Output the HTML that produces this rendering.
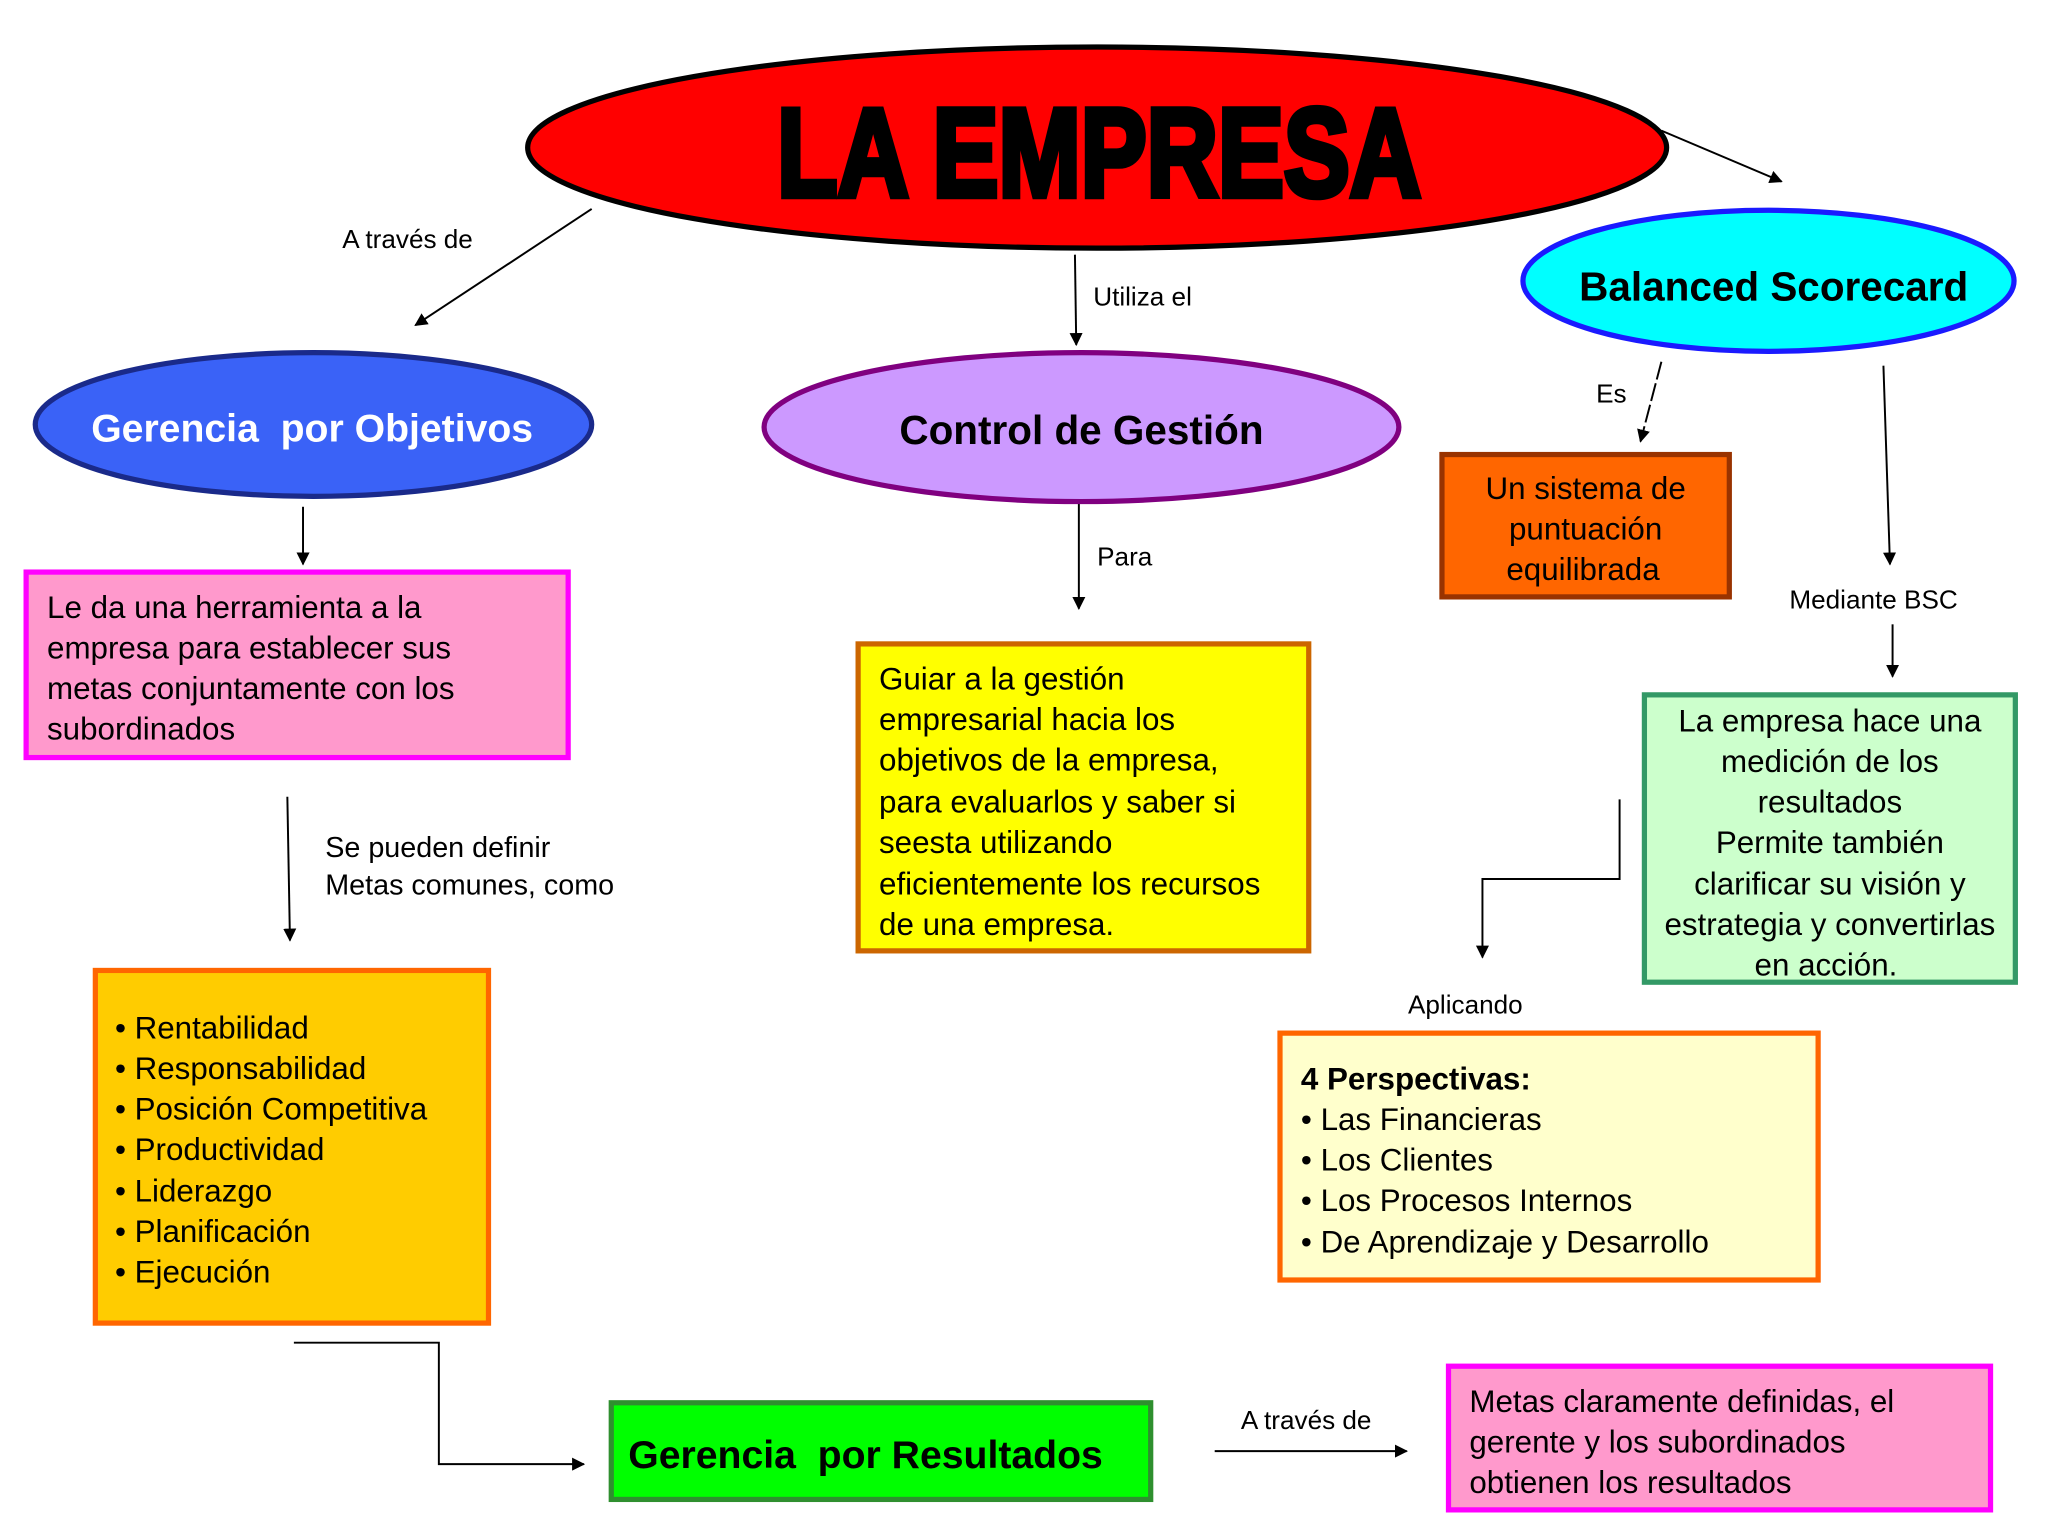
<!DOCTYPE html>
<html><head><meta charset="utf-8"><style>
html,body{margin:0;padding:0;background:#fff;}
svg{display:block;}
text{font-family:"Liberation Sans",Arial,sans-serif;fill:#000;}
</style></head><body>
<svg width="2048" height="1536" viewBox="0 0 1568 1176" xmlns="http://www.w3.org/2000/svg">
<defs>
<marker id="a" markerWidth="10" markerHeight="10" refX="9" refY="5" orient="auto" markerUnits="userSpaceOnUse">
<path d="M0,0 L10,5 L0,10 z" fill="#000"/></marker>
</defs>
<rect width="1568" height="1176" fill="#fff"/>

<!-- connectors -->
<g stroke="#000" stroke-width="1.5" fill="none">
<line x1="1272" y1="100" x2="1364" y2="139" marker-end="url(#a)"/>
<line x1="453" y1="160" x2="318" y2="249" marker-end="url(#a)"/>
<line x1="823" y1="195" x2="824" y2="264" marker-end="url(#a)"/>
<line x1="232" y1="388" x2="232" y2="432" marker-end="url(#a)"/>
<line x1="220" y1="610" x2="222" y2="720" marker-end="url(#a)"/>
<polyline points="225,1028 336,1028 336,1121 447,1121" marker-end="url(#a)"/>
<line x1="930" y1="1111" x2="1077" y2="1111" marker-end="url(#a)"/>
<line x1="826" y1="380" x2="826" y2="466" marker-end="url(#a)"/>
<line x1="1272" y1="277" x2="1256" y2="338" stroke-dasharray="14,3" marker-end="url(#a)"/>
<line x1="1442" y1="280" x2="1447" y2="432" marker-end="url(#a)"/>
<line x1="1449" y1="478" x2="1449" y2="518" marker-end="url(#a)"/>
<polyline points="1240,612 1240,673 1135,673 1135,733" marker-end="url(#a)"/>
</g>

<!-- ellipses -->
<ellipse cx="840" cy="113" rx="436" ry="77" fill="#ff0000" stroke="#000" stroke-width="4"/>
<text x="595" y="150" font-size="96" font-weight="900" textLength="493" lengthAdjust="spacingAndGlyphs" stroke="#000" stroke-width="5" style="font-family:'Liberation Sans Narrow','Liberation Sans',sans-serif">LA EMPRESA</text>

<ellipse cx="240" cy="325" rx="213" ry="55" fill="#3a62f7" stroke="#1a2a8a" stroke-width="4"/>
<text x="239" y="338" font-size="30" font-weight="bold" text-anchor="middle" style="fill:#fff" xml:space="preserve">Gerencia  por Objetivos</text>

<ellipse cx="828" cy="327" rx="243" ry="57" fill="#cc99ff" stroke="#800080" stroke-width="4"/>
<text x="828" y="340" font-size="31" font-weight="bold" text-anchor="middle">Control de Gestión</text>

<ellipse cx="1354" cy="215" rx="188" ry="54" fill="#00ffff" stroke="#1a1aff" stroke-width="4"/>
<text x="1358" y="230" font-size="31" font-weight="bold" text-anchor="middle">Balanced Scorecard</text>

<!-- labels -->
<g font-size="20">
<text x="262" y="190">A través de</text>
<text x="837" y="234">Utiliza el</text>
<text x="840" y="433">Para</text>
<text x="1222" y="308">Es</text>
<text x="1370" y="466">Mediante BSC</text>
<text x="1078" y="776">Aplicando</text>
<text x="950" y="1094">A través de</text>
<text x="249" y="656" font-size="22">Se pueden definir</text>
<text x="249" y="685" font-size="22">Metas comunes, como</text>
</g>

<!-- boxes -->
<rect x="20" y="438" width="415" height="142" fill="#ff99cc" stroke="#ff00ff" stroke-width="4"/>
<g font-size="24">
<text x="36" y="473">Le da una herramienta a la</text>
<text x="36" y="504">empresa para establecer sus</text>
<text x="36" y="535">metas conjuntamente con los</text>
<text x="36" y="566">subordinados</text>
</g>

<rect x="73" y="743" width="301" height="270" fill="#ffcc00" stroke="#ff6600" stroke-width="4"/>
<g font-size="24">
<text x="88" y="795">• Rentabilidad</text>
<text x="88" y="826">• Responsabilidad</text>
<text x="88" y="857">• Posición Competitiva</text>
<text x="88" y="888">• Productividad</text>
<text x="88" y="920">• Liderazgo</text>
<text x="88" y="951">• Planificación</text>
<text x="88" y="982">• Ejecución</text>
</g>

<rect x="468" y="1074" width="413" height="74" fill="#00ff00" stroke="#2f8f2f" stroke-width="4"/>
<text x="481" y="1124" font-size="30" font-weight="bold" xml:space="preserve">Gerencia  por Resultados</text>

<rect x="1109" y="1046" width="415" height="110" fill="#ff99cc" stroke="#ff00ff" stroke-width="4"/>
<g font-size="24">
<text x="1125" y="1081">Metas claramente definidas, el</text>
<text x="1125" y="1112">gerente y los subordinados</text>
<text x="1125" y="1143">obtienen los resultados</text>
</g>

<rect x="657" y="493" width="345" height="235" fill="#ffff00" stroke="#cc6600" stroke-width="4"/>
<g font-size="24">
<text x="673" y="528">Guiar a la gestión</text>
<text x="673" y="559">empresarial hacia los</text>
<text x="673" y="590">objetivos de la empresa,</text>
<text x="673" y="622">para evaluarlos y saber si</text>
<text x="673" y="653">seesta utilizando</text>
<text x="673" y="685">eficientemente los recursos</text>
<text x="673" y="716">de una empresa.</text>
</g>

<rect x="1104" y="348" width="220" height="109" fill="#ff6600" stroke="#993300" stroke-width="4"/>
<g font-size="24" text-anchor="middle">
<text x="1214" y="382">Un sistema de</text>
<text x="1214" y="413">puntuación</text>
<text x="1212" y="444">equilibrada</text>
</g>

<rect x="1259" y="532" width="284" height="220" fill="#ccffcc" stroke="#339966" stroke-width="4"/>
<g font-size="24" text-anchor="middle">
<text x="1401" y="560">La empresa hace una</text>
<text x="1401" y="591">medición de los</text>
<text x="1401" y="622">resultados</text>
<text x="1401" y="653">Permite también</text>
<text x="1401" y="685">clarificar su visión y</text>
<text x="1401" y="716">estrategia y convertirlas</text>
<text x="1398" y="747">en acción.</text>
</g>

<rect x="980" y="791" width="412" height="189" fill="#ffffcc" stroke="#ff6600" stroke-width="4"/>
<g font-size="24">
<text x="996" y="834" font-weight="bold">4 Perspectivas:</text>
<text x="996" y="865">• Las Financieras</text>
<text x="996" y="896">• Los Clientes</text>
<text x="996" y="927">• Los Procesos Internos</text>
<text x="996" y="959">• De Aprendizaje y Desarrollo</text>
</g>
</svg>
</body></html>
